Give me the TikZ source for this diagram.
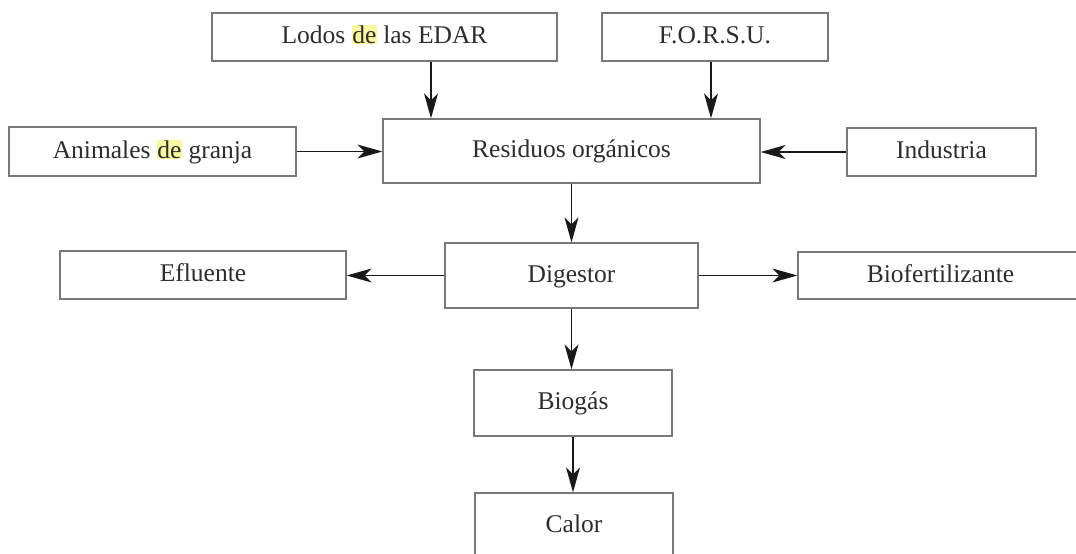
\documentclass[tikz,border=0pt]{standalone}
\usepackage{fontspec}
\setmainfont{Liberation Serif}
\usetikzlibrary{arrows.meta}
\definecolor{boxline}{RGB}{120,120,120}
\definecolor{inktext}{RGB}{45,45,45}
\definecolor{hlyellow}{RGB}{250,248,160}
\newcommand{\marcar}[1]{{\setlength{\fboxsep}{0.6pt}\colorbox{hlyellow}{\vphantom{dl}#1}}}
\tikzset{
  stage/.style={draw=boxline, line width=1.3pt, inner sep=0pt, align=center,
    text=inktext, font=\fontsize{25.5}{29}\selectfont,
    text height=18pt, text depth=5pt},
  flow/.style={draw=black!90, line width=1.4pt,
    -{Stealth[length=25pt,width=14pt,inset=7pt]}}
}
\begin{document}
\begin{tikzpicture}[x=1pt,y=-1pt]
  \useasboundingbox (0,0) rectangle (1076,554);
  \clip (0,0) rectangle (1076,554);

  % sources
  \node[stage, minimum width=345pt, minimum height=48pt] (lodos) at (384.5,37) {Lodos \marcar{de} las EDAR};
  \node[stage, minimum width=226pt, minimum height=48pt] (forsu) at (715,37) {F.O.R.S.U.};
  \node[stage, minimum width=287pt, minimum height=49pt] (anim) at (152.5,151.5) {Animales \marcar{de} granja};
  \node[stage, minimum width=377pt, minimum height=64pt] (res) at (571.5,151) {Residuos orgánicos};
  \node[stage, minimum width=189pt, minimum height=48pt] (ind) at (941.5,152) {Industria};

  % digestion and products
  \node[stage, minimum width=253pt, minimum height=65pt] (dig) at (571.5,275.5) {Digestor};
  \node[stage, minimum width=286pt, minimum height=48pt] (efl) at (203,275) {Efluente};
  \node[stage, minimum width=285pt, minimum height=47pt] (bio) at (940.5,275.5) {Biofertilizante};
  \node[stage, minimum width=198pt, minimum height=66pt] (gas) at (573,403) {Biogás};
  \node[stage, minimum width=198pt, minimum height=66pt] (cal) at (574,526) {Calor};

  % columns of the two top feeds
  \coordinate (xa) at (431,0);
  \coordinate (xb) at (711,0);

  % connectors
  \draw[flow] (lodos.south -| xa) -- (res.north -| xa);
  \draw[flow] (forsu.south -| xb) -- (res.north -| xb);
  \draw[flow] (anim.east) -- (res.west |- anim.east);
  \draw[flow] (ind.west) -- (res.east |- ind.west);
  \draw[flow] (res.south) -- (dig.north);
  \draw[flow] (dig.west) -- (efl.east |- dig.west);
  \draw[flow] (dig.east) -- (bio.west |- dig.east);
  \draw[flow] (dig.south) -- (gas.north -| dig.south);
  \draw[flow] (gas.south) -- (cal.north -| gas.south);
\end{tikzpicture}
\end{document}
